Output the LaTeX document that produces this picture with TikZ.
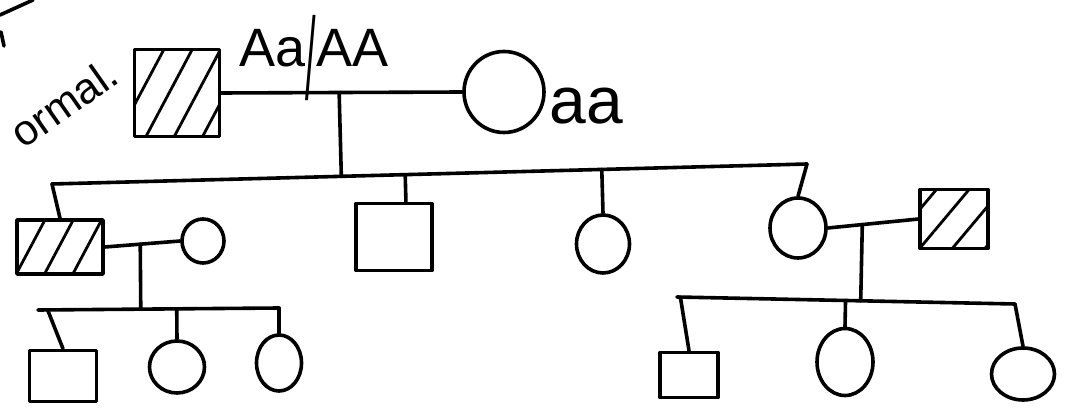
\documentclass[tikz,border=0pt]{standalone}
\usepackage{fontspec}
\setmainfont{Liberation Sans}
\usetikzlibrary{shapes.geometric,patterns.meta,calc}
\begin{document}
\begin{tikzpicture}[x=1pt,y=-1pt,
  line width=3.6pt, line cap=round, line join=round,
  male/.style={draw, rectangle, inner sep=0pt},
  female/.style={draw, ellipse, inner sep=0pt},
  affected/.style={pattern={Lines[angle=#1,distance=25pt,line width=2.8pt]}},
  affected/.default=65,
  lbl/.style={inner sep=0pt, font=\fontsize{54}{58}\selectfont}
]
\useasboundingbox (0,0) rectangle (1076,411);

% stray strokes and text at top-left
\draw (0,15) -- (33,0);
\draw (1,32) -- (4,46);
\node[font=\fontsize{43}{46}\selectfont, rotate=35, inner sep=0pt] (nl) at (64,103) {ormal.};

% generation I
\node[male, affected=62, minimum width=85pt, minimum height=87pt] (f1) at (177,93) {};
\node[female, minimum width=80pt, minimum height=81pt] (m1) at (504,92) {};
\node[lbl, anchor=base west] (gf1) at (238,67) {Aa\raisebox{-33pt}{\scalebox{0.7}[2.15]{/}}AA};
\node[lbl, font=\fontsize{66}{70}\selectfont, anchor=base west] (gm1) at (548,124) {aa};
\draw (f1.east) -- coordinate[pos=0.49] (c1) (m1.west);

% sibship II
\coordinate (s2L) at (52,184);
\coordinate (s2R) at (807,164);
\draw (s2L) -- (s2R);
\draw (c1) -- ($(s2L)!(c1)!(s2R)$);

% generation II
\node[male, affected=62, minimum width=86pt, minimum height=54pt] (a2) at (60,247) {};
\node[female, minimum width=42pt, minimum height=44pt] (w2) at (203,241) {};
\node[male, minimum width=76pt, minimum height=67pt] (b2) at (394,237) {};
\node[female, minimum width=53pt, minimum height=58pt] (c2) at (603,244) {};
\node[female, minimum width=56pt, minimum height=60pt] (d2) at (798,228) {};
\node[male, affected=50, minimum width=68pt, minimum height=59pt] (h2) at (954,219) {};

\draw (s2L) -- (a2.north);
\coordinate (b2top) at ($(b2.north west)!0.65!(b2.north east)$);
\draw ($(s2L)!(b2top)!(s2R)$) -- (b2top);
\draw ($(s2L)!(c2.north)!(s2R)$) -- (c2.north);
\draw (s2R) -- (d2.north);

% couple II left
\draw (a2.east) -- coordinate[pos=0.47] (c2m) (w2.west);
\coordinate (s3L) at (38,310);
\coordinate (s3R) at (279,308);
\draw (s3L) -- (s3R);
\draw (c2m) -- ($(s3L)!(c2m)!(s3R)$);

\node[male, minimum width=67pt, minimum height=51pt] (a3) at (63,376) {};
\node[female, minimum width=55pt, minimum height=52pt] (b3) at (177,367) {};
\node[female, minimum width=45pt, minimum height=56pt] (c3) at (279,363) {};
\draw ($(s3L)!0.04!(s3R)$) -- (a3.north);
\draw ($(s3L)!(b3.north)!(s3R)$) -- (b3.north);
\draw (s3R) -- (c3.north);

% couple II right
\draw (d2.east) -- coordinate[pos=0.38] (c4) (h2.west);
\coordinate (s4L) at (677,297);
\coordinate (s4R) at (1015,304);
\draw (s4L) -- (s4R);
\draw (c4) -- ($(s4L)!(c4)!(s4R)$);

\node[male, minimum width=58pt, minimum height=45pt] (d3) at (689,375) {};
\node[female, minimum width=56pt, minimum height=67pt] (e3) at (845,362) {};
\node[female, minimum width=63pt, minimum height=52pt] (f3) at (1023,374) {};
\draw ($(s4L)!0.01!(s4R)$) -- (d3.north);
\draw ($(s4L)!(e3.north)!(s4R)$) -- (e3.north);
\draw (s4R) -- (f3.north);
\end{tikzpicture}
\end{document}
